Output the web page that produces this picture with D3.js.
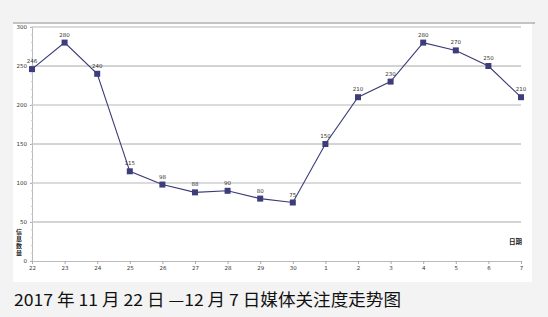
<!DOCTYPE html>
<html>
<head>
<meta charset="utf-8">
<script src="https://cdn.jsdelivr.net/npm/d3@7"></script>
<style>
  html, body { margin: 0; padding: 0; background: #f3f3f3; }
  svg { display: block; }
</style>
</head>
<body>
<div id="chart"></div>
<script>
// dates (Nov 22 -> Dec 7)
const days = ['22', '23', '24', '25', '26', '27', '28', '29', '30', '1', '2', '3', '4', '5', '6', '7'];
const counts = [246, 280, 240, 115, 98, 88, 90, 80, 75, 150, 210, 230, 280, 270, 250, 210];
const yTicks = [0, 50, 100, 150, 200, 250, 300];
const title = '2017 年 11 月 22 日 —12 月 7 日媒体关注度走势图';

const width = 548;
const height = 317;

const svg = d3.select('#chart').append('svg')
  .attr('width', width)
  .attr('height', height);

// white panel behind the chart
svg.append('rect')
  .attr('x', 13).attr('y', 22)
  .attr('width', 519).attr('height', 260)
  .attr('fill', '#fff');

svg.append('line')
  .attr('x1', 13).attr('x2', 535)
  .attr('y1', 23).attr('y2', 23)
  .attr('stroke', '#888').attr('stroke-width', 1);

const x = d3.scalePoint()
  .domain(days)
  .range([32, 521]);

const y = d3.scaleLinear()
  .domain([0, 300])
  .range([261, 27]);

// grid
svg.append('g')
  .selectAll('line')
  .data(yTicks.filter(d => d > 0))
  .join('line')
  .attr('x1', 32).attr('x2', 521)
  .attr('y1', d => y(d)).attr('y2', d => y(d))
  .attr('stroke', d => d % 100 === 0 ? '#cfcfcf' : '#a8a8a8')
  .attr('stroke-width', d => d % 100 === 0 ? 1.6 : 1);

// y axis
const yAxis = svg.append('g')
  .attr('transform', 'translate(32,0)')
  .call(d3.axisLeft(y).tickValues(yTicks).tickSize(2).tickPadding(3));
yAxis.select('.domain').attr('stroke', '#bbb');
yAxis.selectAll('.tick line').attr('stroke', '#aaa');
yAxis.selectAll('text')
  .attr('font-family', 'DejaVu Sans, sans-serif')
  .attr('font-size', 5.5)
  .attr('fill', '#333');

// minor ticks on the y axis
svg.append('g')
  .selectAll('line')
  .data(d3.range(0, 301, 10))
  .join('line')
  .attr('x1', 31).attr('x2', 33)
  .attr('y1', d => y(d)).attr('y2', d => y(d))
  .attr('stroke', '#ccc');

// x axis
const xAxis = svg.append('g')
  .attr('transform', 'translate(0,261)')
  .call(d3.axisBottom(x).tickSize(3).tickPadding(2));
xAxis.select('.domain').attr('stroke', '#bbb');
xAxis.selectAll('.tick line').attr('stroke', '#aaa');
xAxis.selectAll('text')
  .attr('font-family', 'DejaVu Sans, sans-serif')
  .attr('font-size', 5.5)
  .attr('fill', '#333');

// axis names
svg.append('text')
  .attr('x', 19)
  .attr('y', 229)
  .style('writing-mode', 'vertical-rl')
  .style('text-orientation', 'upright')
  .attr('letter-spacing', 1)
  .attr('font-family', 'Noto Sans CJK SC')
  .attr('font-weight', 'bold')
  .attr('font-size', 6)
  .attr('fill', '#222')
  .text('信息数量');

svg.append('text')
  .attr('x', 522).attr('y', 244)
  .attr('text-anchor', 'end')
  .attr('font-family', 'Noto Sans CJK SC')
  .attr('font-weight', 'bold')
  .attr('font-size', 6.5)
  .attr('fill', '#222')
  .text('日期');

// line
const line = d3.line()
  .x((d, i) => x(days[i]))
  .y(d => y(d));

svg.append('path')
  .datum(counts)
  .attr('d', line)
  .attr('fill', 'none')
  .attr('stroke', '#3b3b78')
  .attr('stroke-width', 1.1);

svg.append('g')
  .selectAll('rect')
  .data(counts)
  .join('rect')
  .attr('x', (d, i) => x(days[i]) - 3)
  .attr('y', d => y(d) - 3)
  .attr('width', 6).attr('height', 6)
  .attr('fill', '#3d3d7c');

svg.append('g')
  .selectAll('text')
  .data(counts)
  .join('text')
  .attr('x', (d, i) => x(days[i]))
  .attr('y', d => y(d) - 6)
  .attr('text-anchor', 'middle')
  .attr('font-family', 'DejaVu Sans, sans-serif')
  .attr('font-size', 5.5)
  .attr('fill', '#333')
  .text(d => d);

// caption
svg.append('text')
  .attr('x', 14).attr('y', 306)
  .attr('font-family', 'Noto Sans CJK SC')
  .attr('font-size', 16.5)
  .attr('fill', '#111')
  .attr('textLength', 387)
  .attr('lengthAdjust', 'spacingAndGlyphs')
  .text(title);
</script>
</body>
</html>
